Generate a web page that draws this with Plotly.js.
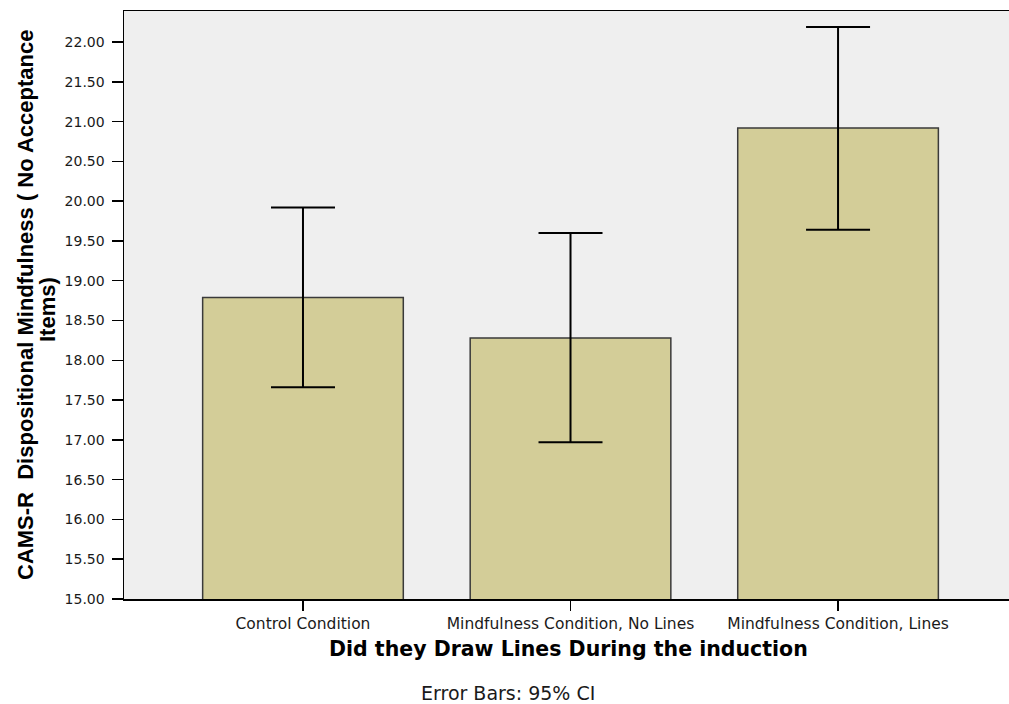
<!DOCTYPE html>
<html>
<head>
<meta charset="utf-8">
<script src="https://cdn.plot.ly/plotly-3.0.1.min.js"></script>
<style>
  html, body { margin: 0; padding: 0; background: #ffffff; }
  #chart { width: 1009px; height: 704px; }
</style>
</head>
<body>
<div id="chart"></div>
<script>
// Conditions and mean CAMS-R scores with 95% confidence limits
const conditions = ["Control Condition", "Mindfulness Condition, No Lines", "Mindfulness Condition, Lines"];
const means = [18.79, 18.28, 20.92];
const ciUpper = [19.92, 19.60, 22.19];
const ciLower = [17.66, 16.97, 19.64];
const yTickValues = [15, 15.5, 16, 16.5, 17, 17.5, 18, 18.5, 19, 19.5, 20, 20.5, 21, 21.5, 22];
const yTickLabels = ["15.00", "15.50", "16.00", "16.50", "17.00", "17.50", "18.00", "18.50", "19.00", "19.50", "20.00", "20.50", "21.00", "21.50", "22.00"];
const xTitle = "Did they Draw Lines During the induction";
const yTitleLines = ["CAMS-R  Dispositional Mindfulness ( No Acceptance", "Items)"];
const footnote = "Error Bars: 95% CI";

const errPlus = means.map((m, i) => ciUpper[i] - m);
const errMinus = means.map((m, i) => m - ciLower[i]);

const trace = {
  type: "bar",
  x: conditions,
  y: means,
  width: 0.75,
  marker: { color: "#d3cd98", line: { color: "#3a3a3a", width: 1.5 } },
  error_y: {
    type: "data",
    symmetric: false,
    array: errPlus,
    arrayminus: errMinus,
    color: "#000000",
    thickness: 2,
    width: 32
  },
  hoverinfo: "skip"
};

// plot area: left 124px, bottom at 599px
const plotLeft = 124, plotWidth = 885;

const layout = {
  width: 1009,
  height: 704,
  margin: { l: plotLeft, r: 0, t: 11, b: 105 },
  paper_bgcolor: "#ffffff",
  plot_bgcolor: "#efefef",
  showlegend: false,
  xaxis: {
    type: "category",
    range: [-0.669, 2.639],
    showline: true,
    linecolor: "#000000",
    linewidth: 1.5,
    mirror: true,
    ticks: "outside",
    ticklen: 10,
    tickwidth: 1.5,
    tickcolor: "#000000",
    showgrid: false,
    zeroline: false,
    ticklabelstandoff: 0,
    tickfont: { family: "DejaVu Sans", size: 15.5, color: "#1a1a1a" }
  },
  yaxis: {
    range: [15, 22.39],
    tickvals: yTickValues,
    ticktext: yTickLabels,
    showline: true,
    linecolor: "#000000",
    linewidth: 1.5,
    ticks: "outside",
    ticklen: 11,
    tickwidth: 1.5,
    tickcolor: "#000000",
    showgrid: false,
    zeroline: false,
    ticklabelstandoff: 4,
    tickfont: { family: "DejaVu Sans", size: 14, color: "#1a1a1a" }
  },
  annotations: [
    {
      text: xTitle,
      xref: "paper", yref: "paper",
      x: (568 - plotLeft) / plotWidth, y: 0,
      yshift: -50,
      xanchor: "center", yanchor: "middle",
      showarrow: false,
      font: { family: "DejaVu Sans", size: 20.5, color: "#000000", weight: "bold" }
    },
    {
      text: yTitleLines[0],
      xref: "paper", yref: "paper",
      x: 0, y: 0.5,
      xshift: -99,
      textangle: -90,
      xanchor: "center", yanchor: "middle",
      showarrow: false,
      font: { family: "Liberation Sans", size: 22, color: "#000000", weight: "bold" }
    },
    {
      text: yTitleLines[1],
      xref: "paper", yref: "paper",
      x: 0, y: 0.5,
      xshift: -77,
      yshift: -5,
      textangle: -90,
      xanchor: "center", yanchor: "middle",
      showarrow: false,
      font: { family: "Liberation Sans", size: 22, color: "#000000", weight: "bold" }
    },
    {
      text: footnote,
      xref: "paper", yref: "paper",
      x: (508 - plotLeft) / plotWidth, y: 0,
      yshift: -94,
      xanchor: "center", yanchor: "middle",
      showarrow: false,
      font: { family: "DejaVu Sans", size: 19, color: "#1a1a1a" }
    }
  ]
};

Plotly.newPlot("chart", [trace], layout, { displayModeBar: false, staticPlot: true });
</script>
</body>
</html>
